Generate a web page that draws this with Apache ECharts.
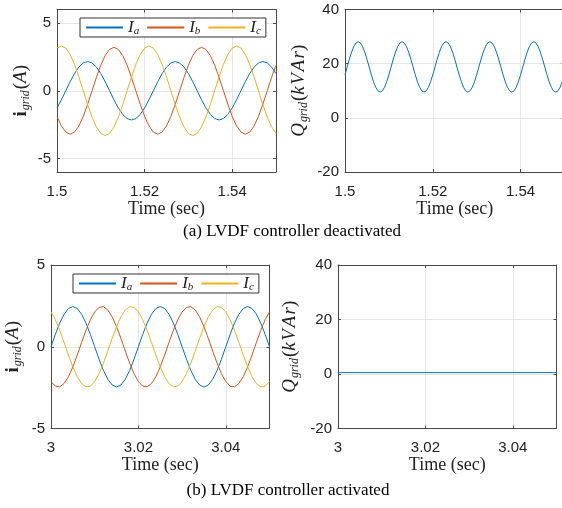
<!DOCTYPE html>
<html lang="en">
<head>
<meta charset="UTF-8">
<title>LVDF controller</title>
<script src="https://cdn.jsdelivr.net/npm/echarts@6/dist/echarts.min.js"></script>
<style>
    * { margin: 0; padding: 0; }
    body { background: #fff; }
    #chart { width: 562px; height: 508px; }
</style>
</head>
<body>
<div id="chart"></div>
<script>
    // time stamps (sec)
    var tTop = [1.500,1.501,1.502,1.503,1.504,1.505,1.506,1.507,1.508,1.509,1.510,1.511,1.512,1.513,1.514,1.515,1.516,1.517,1.518,1.519,
        1.520,1.521,1.522,1.523,1.524,1.525,1.526,1.527,1.528,1.529,1.530,1.531,1.532,1.533,1.534,1.535,1.536,1.537,1.538,1.539,
        1.540,1.541,1.542,1.543,1.544,1.545,1.546,1.547,1.548,1.549,1.550];
    var tTopQ = [1.5,1.5005,1.501,1.5015,1.502,1.5025,1.503,1.5035,1.504,1.5045,1.505,1.5055,1.506,1.5065,1.507,1.5075,1.508,1.5085,1.509,1.5095,
        1.51,1.5105,1.511,1.5115,1.512,1.5125,1.513,1.5135,1.514,1.5145,1.515,1.5155,1.516,1.5165,1.517,1.5175,1.518,1.5185,1.519,1.5195,
        1.52,1.5205,1.521,1.5215,1.522,1.5225,1.523,1.5235,1.524,1.5245,1.525,1.5255,1.526,1.5265,1.527,1.5275,1.528,1.5285,1.529,1.5295,
        1.53,1.5305,1.531,1.5315,1.532,1.5325,1.533,1.5335,1.534,1.5345,1.535,1.5355,1.536,1.5365,1.537,1.5375,1.538,1.5385,1.539,1.5395,
        1.54,1.5405,1.541,1.5415,1.542,1.5425,1.543,1.5435,1.544,1.5445,1.545,1.5455,1.546,1.5465,1.547,1.5475,1.548,1.5485,1.549,1.5495,
        1.55];
    var tBot = [3.000,3.001,3.002,3.003,3.004,3.005,3.006,3.007,3.008,3.009,3.010,3.011,3.012,3.013,3.014,3.015,3.016,3.017,3.018,3.019,
        3.020,3.021,3.022,3.023,3.024,3.025,3.026,3.027,3.028,3.029,3.030,3.031,3.032,3.033,3.034,3.035,3.036,3.037,3.038,3.039,
        3.040,3.041,3.042,3.043,3.044,3.045,3.046,3.047,3.048,3.049,3.050];
    var tBotQ = [3.0, 3.05];

    // (a) controller deactivated: grid currents (A)
    var iaTop = [-1.27,-0.67,
        0,0.67,1.27,1.75,2.05,2.16,2.05,1.75,1.27,0.67,0,-0.67,-1.27,-1.75,-2.05,-2.16,-2.05,-1.75,-1.27,-0.67,
        0,0.67,1.27,1.75,2.05,2.16,2.05,1.75,1.27,0.67,0,-0.67,-1.27,-1.75,-2.05,-2.16,-2.05,-1.75,-1.27,-0.67,
        0,0.67,1.27,1.75,2.05,2.16,2.05,1.75,1.27];
    var ibTop = [-1.89,-2.60,-3.05,-3.21,-3.05,-2.60,-1.89,-0.99,0,0.99,1.89,2.60,3.05,3.21,3.05,2.60,1.89,0.99,0,-0.99,
        -1.89,-2.60,-3.05,-3.21,-3.05,-2.60,-1.89,-0.99,0,0.99,1.89,2.60,3.05,3.21,3.05,2.60,1.89,0.99,0,-0.99,
        -1.89,-2.60,-3.05,-3.21,-3.05,-2.60,-1.89,-0.99,0,0.99,1.89];
    var icTop = [3.15,3.31,3.15,2.68,1.95,1.02,0,-1.02,-1.95,-2.68,-3.15,-3.31,-3.15,-2.68,-1.95,-1.02,0,1.02,1.95,2.68,
        3.15,3.31,3.15,2.68,1.95,1.02,0,-1.02,-1.95,-2.68,-3.15,-3.31,-3.15,-2.68,-1.95,-1.02,0,1.02,1.95,2.68,
        3.15,3.31,3.15,2.68,1.95,1.02,0,-1.02,-1.95,-2.68,-3.15];
    // (a) reactive power (kVAr)
    var qTop = [15.93,18.8,21.67,24.27,26.32,27.64,28.1,27.64,26.32,24.27,21.67,18.8,15.93,13.33,11.28,9.96,9.5,9.96,11.28,13.33,
        15.93,18.8,21.67,24.27,26.32,27.64,28.1,27.64,26.32,24.27,21.67,18.8,15.93,13.33,11.28,9.96,9.5,9.96,11.28,13.33,
        15.93,18.8,21.67,24.27,26.32,27.64,28.1,27.64,26.32,24.27,21.67,18.8,15.93,13.33,11.28,9.96,9.5,9.96,11.28,13.33,
        15.93,18.8,21.67,24.27,26.32,27.64,28.1,27.64,26.32,24.27,21.67,18.8,15.93,13.33,11.28,9.96,9.5,9.96,11.28,13.33,
        15.93,18.8,21.67,24.27,26.32,27.64,28.1,27.64,26.32,24.27,21.67,18.8,15.93,13.33,11.28,9.96,9.5,9.96,11.28,13.33,
        15.93];

    // (b) controller activated: grid currents (A)
    var iaBot = [0,0.76,1.45,1.99,2.34,2.46,2.34,1.99,1.45,0.76,0,-0.76,-1.45,-1.99,-2.34,-2.46,-2.34,-1.99,-1.45,-0.76,
        0,0.76,1.45,1.99,2.34,2.46,2.34,1.99,1.45,0.76,0,-0.76,-1.45,-1.99,-2.34,-2.46,-2.34,-1.99,-1.45,-0.76,
        0,0.76,1.45,1.99,2.34,2.46,2.34,1.99,1.45,0.76,0];
    var ibBot = [-2.13,-2.41,-2.45,-2.25,-1.83,-1.23,-0.51,0.26,1.00,1.65,2.13,2.41,2.45,2.25,1.83,1.23,0.51,-0.26,-1.00,-1.65,
        -2.13,-2.41,-2.45,-2.25,-1.83,-1.23,-0.51,0.26,1.00,1.65,2.13,2.41,2.45,2.25,1.83,1.23,0.51,-0.26,-1.00,-1.65,
        -2.13,-2.41,-2.45,-2.25,-1.83,-1.23,-0.51,0.26,1.00,1.65,2.13];
    var icBot = [2.13,1.65,1.00,0.26,-0.51,-1.23,-1.83,-2.25,-2.45,-2.41,-2.13,-1.65,-1.00,-0.26,0.51,1.23,1.83,2.25,2.45,2.41,
        2.13,1.65,1.00,0.26,-0.51,-1.23,-1.83,-2.25,-2.45,-2.41,-2.13,-1.65,-1.00,-0.26,0.51,1.23,1.83,2.25,2.45,2.41,
        2.13,1.65,1.00,0.26,-0.51,-1.23,-1.83,-2.25,-2.45,-2.41,-2.13];
    // (b) reactive power (kVAr)
    var qBot = [0.5, 0.5];

    // tick labels
    var xTicksTop = [1.5, 1.52, 1.54];
    var xTicksBot = [3, 3.02, 3.04];
    var yTicksI = [-5, 0, 5];
    var yTicksQ = [-20, 0, 20, 40];

    var colors = ['#0072BD', '#D95319', '#EDB120'];
    var sans = '"Liberation Sans", Arial, sans-serif';
    var serif = '"Liberation Serif", "Times New Roman", serif';
    var axisColor = '#4a4a4a';
    var gridColor = '#e6e6e6';

    var grids = [
        {left: 57, top: 9.5, width: 219, height: 162.5},
        {left: 345, top: 9.5, width: 219.5, height: 162.5},
        {left: 51, top: 265, width: 218.5, height: 163.5},
        {left: 338, top: 265, width: 218.5, height: 163.5}
    ];

    var iName = '{b|i}{s|grid}{n|(}{it|A}{n|)}';
    var qName = '{it|Q}{s|grid}{n|(}{it|k\u200aV\u200aA\u200ar}{n|)}';
    var nameRich = {
        b: {fontFamily: serif, fontWeight: 'bold', fontSize: 19, lineHeight: 24, color: '#222'},
        it: {fontFamily: serif, fontStyle: 'italic', fontSize: 19, lineHeight: 24, color: '#222'},
        n: {fontFamily: serif, fontSize: 19, lineHeight: 24, color: '#222'},
        s: {fontFamily: serif, fontStyle: 'italic', fontSize: 12, lineHeight: 12, padding: [10, 1, 0, 1], color: '#222'}
    };

    var xAxes = [], yAxes = [];
    function addAxes(g, xmin, xmax, xt, ymin, ymax, yt, yName, yGap) {
        var line = {show: true, onZero: false, lineStyle: {color: axisColor, width: 1}};
        xAxes.push({
            type: 'value', gridIndex: g, position: 'bottom', min: xmin, max: xmax,
            name: 'Time (sec)', nameLocation: 'middle', nameGap: 28,
            nameTextStyle: {fontFamily: serif, fontSize: 18, color: '#222'},
            axisLine: line,
            axisTick: {show: true, inside: true, length: 3, customValues: xt, lineStyle: {color: axisColor}},
            axisLabel: {customValues: xt, margin: 12, fontFamily: sans, fontSize: 15, color: '#222'},
            splitLine: {show: true, lineStyle: {color: gridColor, width: 1}}
        });
        xAxes.push({
            type: 'value', gridIndex: g, position: 'top', min: xmin, max: xmax,
            axisLine: line,
            axisTick: {show: true, inside: true, length: 3, customValues: xt, lineStyle: {color: axisColor}},
            axisLabel: {show: false},
            splitLine: {show: false}
        });
        yAxes.push({
            type: 'value', gridIndex: g, position: 'left', min: ymin, max: ymax,
            name: yName, nameLocation: 'middle', nameRotate: 90, nameGap: yGap,
            nameTextStyle: {rich: nameRich},
            axisLine: line,
            axisTick: {show: true, inside: true, length: 3, customValues: yt, lineStyle: {color: axisColor}},
            axisLabel: {customValues: yt, margin: 6, fontFamily: sans, fontSize: 15, color: '#222'},
            splitLine: {show: true, lineStyle: {color: gridColor, width: 1}}
        });
        yAxes.push({
            type: 'value', gridIndex: g, position: 'right', min: ymin, max: ymax,
            axisLine: line,
            axisTick: {show: true, inside: true, length: 3, customValues: yt, lineStyle: {color: axisColor}},
            axisLabel: {show: false},
            splitLine: {show: false}
        });
    }
    addAxes(0, 1.5, 1.55, xTicksTop, -6, 6, yTicksI, iName, 24);
    addAxes(1, 1.5, 1.55, xTicksTop, -20, 40, yTicksQ, qName, 34);
    addAxes(2, 3, 3.05, xTicksBot, -5, 5, yTicksI, iName, 26);
    addAxes(3, 3, 3.05, xTicksBot, -20, 40, yTicksQ, qName, 36);

    function pairs(t, v) {
        return t.map(function (x, i) { return [x, v[i]]; });
    }
    function line(name, g, t, v, color) {
        return {
            name: name, type: 'line', xAxisIndex: g * 2, yAxisIndex: g * 2,
            data: pairs(t, v), symbol: 'none', clip: true,
            lineStyle: {color: color, width: 1}, itemStyle: {color: color}
        };
    }

    // legend keeps the series' own line icon; a 1px item height shrinks its marker away
    function legendFor(left, top) {
        return {
            left: left, top: top, orient: 'horizontal',
            data: ['Ia', 'Ib', 'Ic'],
            backgroundColor: '#fff', borderColor: '#333', borderWidth: 1,
            padding: [0, 5, 0, 5], itemWidth: 37, itemHeight: 1, itemGap: 7,
            formatter: function (name) { return '{i|I}{s|' + name.slice(1) + '}'; },
            textStyle: {
                rich: {
                    i: {fontFamily: serif, fontStyle: 'italic', fontSize: 17, lineHeight: 21, color: '#222'},
                    s: {fontFamily: serif, fontStyle: 'italic', fontSize: 11, lineHeight: 11, padding: [8, 0, 0, 0], color: '#222'}
                }
            }
        };
    }

    var chart = echarts.init(document.getElementById('chart'));
    chart.setOption({
        animation: false,
        backgroundColor: '#fff',
        grid: grids.map(function (g) {
            return Object.assign({outerBoundsMode: 'none', containLabel: false}, g);
        }),
        xAxis: xAxes,
        yAxis: yAxes,
        legend: [legendFor(80, 18), legendFor(73, 274)],
        series: [
            line('Ia', 0, tTop, iaTop, colors[0]),
            line('Ib', 0, tTop, ibTop, colors[1]),
            line('Ic', 0, tTop, icTop, colors[2]),
            line('Q', 1, tTopQ, qTop, colors[0]),
            line('Ia', 2, tBot, iaBot, colors[0]),
            line('Ib', 2, tBot, ibBot, colors[1]),
            line('Ic', 2, tBot, icBot, colors[2]),
            line('Q', 3, tBotQ, qBot, colors[0])
        ],
        graphic: [
            {type: 'text', x: 292, y: 232, style: {text: '(a) LVDF controller deactivated', font: '17px ' + serif,
                fill: '#000', align: 'center', verticalAlign: 'middle', textAlign: 'center', textVerticalAlign: 'middle'}},
            {type: 'text', x: 288, y: 491, style: {text: '(b) LVDF controller activated', font: '17px ' + serif,
                fill: '#000', align: 'center', verticalAlign: 'middle', textAlign: 'center', textVerticalAlign: 'middle'}}
        ]
    });
</script>
</body>
</html>
